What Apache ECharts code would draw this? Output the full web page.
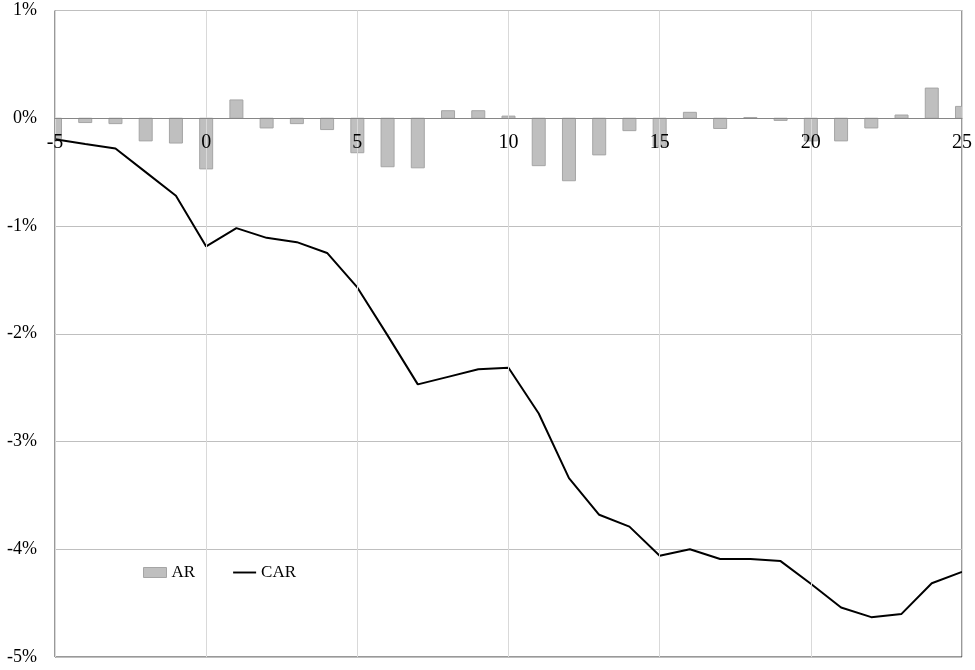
<!DOCTYPE html>
<html>
<head>
<meta charset="utf-8">
<script src="https://cdn.jsdelivr.net/npm/echarts@6/dist/echarts.min.js"></script>
<style>
html,body{margin:0;padding:0;background:#fff;}
#chart{width:975px;height:670px;}
</style>
</head>
<body>
<div id="chart"></div>
<script>
var days = [-5,-4,-3,-2,-1,0,1,2,3,4,5,6,7,8,9,10,11,12,13,14,15,16,17,18,19,20,21,22,23,24,25];
var arValues = [-0.19,-0.04,-0.05,-0.21,-0.23,-0.47,0.17,-0.09,-0.05,-0.105,-0.32,-0.45,-0.46,0.07,0.07,0.02,-0.44,-0.58,-0.34,-0.115,-0.26,0.055,-0.095,0.007,-0.02,-0.21,-0.21,-0.09,0.03,0.28,0.11];
var carValues = [-0.195,-0.24,-0.28,-0.50,-0.72,-1.19,-1.02,-1.11,-1.15,-1.25,-1.57,-2.015,-2.47,-2.40,-2.33,-2.315,-2.74,-3.34,-3.68,-3.79,-4.06,-4.00,-4.09,-4.09,-4.11,-4.32,-4.54,-4.63,-4.60,-4.315,-4.21];
var xTicks = [-5, 0, 5, 10, 15, 20, 25];
var yTicks = [-5, -4, -3, -2, -1, 0, 1];

var font = 'Liberation Serif, Times New Roman, serif';
var barFill = '#bfbfbf', barStroke = '#a5a5a5';
var chart = echarts.init(document.getElementById('chart'));
chart.setOption({
  animation: false,
  backgroundColor: '#fff',
  textStyle: { fontFamily: font, color: '#000' },
  grid: { left: 55, right: 13, top: 10.5, bottom: 13, show: true, borderColor: '#333', borderWidth: 1, containLabel: false, outerBoundsMode: 'none' },
  legend: {
    left: 133, top: 550,
    backgroundColor: '#fff',
    padding: [14, 10, 12, 10],
    itemWidth: 23, itemHeight: 10, itemGap: 38,
    textStyle: { fontFamily: font, fontSize: 17, color: '#000' },
    data: [
      { name: 'AR', icon: 'rect', itemStyle: { color: barFill, borderColor: barStroke, borderWidth: 1 } },
      { name: 'CAR', icon: 'path://M0,0L24,0L24,2L0,2Z', itemStyle: { color: '#000', borderWidth: 0 } }
    ]
  },
  xAxis: {
    type: 'value',
    min: xTicks[0], max: xTicks[xTicks.length - 1], interval: 5,
    z: 10,
    axisLine: { show: true, onZero: false, lineStyle: { color: '#868686', width: 1 } },
    axisTick: { show: false },
    axisLabel: { show: true, fontFamily: font, fontSize: 20, color: '#000', margin: 14, showMinLabel: true, showMaxLabel: true },
    splitLine: { show: true, lineStyle: { color: '#d9d9d9', width: 1 } }
  },
  yAxis: {
    type: 'value',
    min: yTicks[0], max: yTicks[yTicks.length - 1], interval: 1,
    axisLine: { show: true, onZero: false, lineStyle: { color: '#7f7f7f' } },
    axisTick: { show: false },
    axisLabel: { fontFamily: font, fontSize: 18, color: '#000', margin: 18, formatter: '{value}%' },
    splitLine: { show: true, lineStyle: { color: '#bfbfbf', width: 1 } }
  },
  series: [
    {
      name: 'AR', type: 'custom', clip: true, z: 2,
      itemStyle: { color: barFill, borderColor: barStroke, borderWidth: 1 },
      encode: { x: 0, y: 1 },
      data: days.map(function (d, i) { return [d, arValues[i]]; }),
      renderItem: function (params, api) {
        var x = api.value(0), v = api.value(1);
        var base = api.coord([x, 0]);
        var top = api.coord([x, v]);
        var w = api.size([1, 0])[0] * 0.43;
        return {
          type: 'rect',
          shape: { x: base[0] - w / 2, y: Math.min(base[1], top[1]), width: w, height: Math.abs(top[1] - base[1]) },
          style: { fill: barFill, stroke: barStroke, lineWidth: 1 }
        };
      }
    },
    {
      name: 'CAR', type: 'line', symbol: 'none', showSymbol: false, z: 3,
      lineStyle: { color: '#000', width: 2 },
      itemStyle: { color: '#000' },
      data: days.map(function (d, i) { return [d, carValues[i]]; })
    }
  ]
});
// place the x axis (line + labels) on the y = 0 level, using the library's own scale
var zeroY = chart.convertToPixel({ yAxisIndex: 0 }, 0);
var bottomY = chart.convertToPixel({ yAxisIndex: 0 }, yTicks[0]);
chart.setOption({ xAxis: { offset: zeroY - bottomY } });
</script>
</body>
</html>
